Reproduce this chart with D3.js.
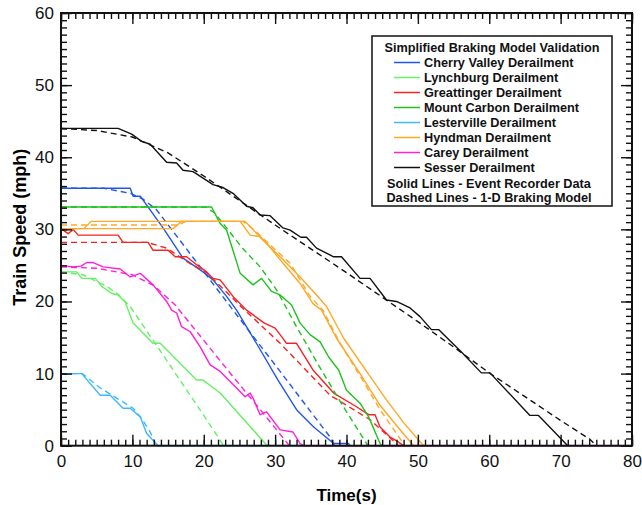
<!DOCTYPE html>
<meta charset="utf-8">
<style>
body { margin: 0; background: #fff; }
text { font-family: Arial, "Liberation Sans", sans-serif; }
.tick line { stroke: #111; stroke-width: 1.4px; }
.tick text { font-size: 17px; fill: #111; }
.run { fill: none; stroke-width: 1.4px; stroke-linejoin: round; }
.model { fill: none; stroke-width: 1.4px; stroke-dasharray: 6,4; }
.legend text { font-size: 12.7px; font-weight: bold; fill: #111; }
</style>
<body>
<script src="https://cdn.jsdelivr.net/npm/d3@7"></script>
<script>

// event recorder data (solid) and 1-D braking model (dashed), [time s, speed mph]
var cherrySolid = [[0,35.7],[9.7,35.7],[10.1,34.6],[11.1,34.6],[14.3,30.2],[17.1,26],[19.9,24.1],[21.3,23],[23.2,20.7],[24.6,18.8],[27.5,14],[30.4,9.1],[33,5],[35.4,2.6],[38.2,0.3],[40.3,0.3],[40.5,0]]
var cherryModel = [[0,35.7],[6,35.7],[9.7,35],[11.5,34.2],[13.4,32.7],[18.5,26.1],[24.1,18.8],[30.7,10.3],[35,4.7],[37.7,1.2],[38.3,0]]
var lynchSolid = [[0,24.1],[2.2,24.1],[2.9,23.2],[4.8,23.2],[5.7,22.1],[7.1,21.1],[8,20.9],[9,19.9],[10.1,17],[12.9,14.2],[13.9,14.2],[19,9.1],[19.9,9.1],[22.3,7.3],[28.9,0]]
var lynchModel = [[0,24.1],[3.1,23.7],[6.4,22.1],[8,21],[9.7,19.3],[13.4,13.9],[17,8.6],[20,4.2],[22.8,0]]
var greatSolid = [[0,30.1],[1,29.4],[1.7,30],[2.4,29.2],[8,29.2],[8.7,28.2],[12.2,28.2],[12.9,27.1],[15,27.1],[16,26.2],[17.6,26.2],[19,25.1],[20.4,24.1],[21.3,23.2],[22.3,23],[24.1,20.7],[26,18.8],[28.5,17],[30,16.3],[30.7,15.4],[31.6,14.2],[33,14.2],[35.3,10.5],[38.2,7.3],[41.4,5.4],[43.1,4.3],[44,4.3],[44.7,2.6],[46.1,1.2],[46.8,0.8],[48,0]]
var greatModel = [[0,28.2],[12,28.2],[14.8,27.4],[18,25.3],[20.4,24],[25,19.5],[30.7,14.2],[37.7,7],[43.3,3.6],[47.3,0]]
var mountSolid = [[0,33.1],[21.1,33.1],[22.3,30.8],[23.2,29.9],[25.1,23.9],[26.9,22.3],[28.1,23.2],[29.5,21.4],[30.7,20.9],[32.3,19.5],[33.5,17],[34.9,15.4],[36.3,14.4],[37.5,12.3],[38.9,10.5],[40,7.7],[41.9,5.9],[43.1,4],[44.7,0.3],[45,0]]
var mountModel = [[0,33.1],[20.2,33.1],[21.5,32.3],[23.2,30.2],[25.5,27.3],[27.9,24.8],[30.2,21.6],[33,16.5],[36,11.3],[39.5,5.5],[43,0]]
var lesterSolid = [[0,10],[2.9,10],[5.5,7],[6.9,7],[8.7,5.2],[9.7,5.2],[11.1,4],[12,1.7],[13.6,0],[80,0]]
var lesterModel = [[0,10],[3,10],[5.5,8],[7.8,6.6],[10.1,5.2],[11.2,3.9],[12.5,1.9],[13.4,0]]
var hyndSolidA = [[0,30.1],[3.2,30.1],[4.2,31.1],[25.1,31.1],[26.5,29.2],[27.9,29],[28.8,28.1],[31.1,25.3],[33.5,22.5],[35.3,19.7],[36.5,18.8],[38.6,14.9],[41.9,10],[44.7,5.6],[47,2.8],[49.4,0]]
var hyndSolidB = [[0,30.1],[15.7,30.1],[16.9,31.1],[25.8,31.1],[28.3,28.5],[30.7,26.2],[33.5,23.4],[35.8,20.9],[37.2,19.3],[39.6,14.9],[43.3,9.6],[45.5,6.5],[48,3.2],[50.8,0]]
var hyndModel = [[0,30.6],[16.4,30.6],[17.5,31.1],[25.5,31.1],[27,30],[28.8,28.3],[32.1,25.3],[34.9,20.7],[36.7,18.8],[39.1,14.2],[42,9.5],[44.7,5],[48.2,0]]
var careySolid = [[0,25],[1.7,24.8],[2.8,24.9],[3.6,25.4],[4.5,25.4],[5.9,24.8],[8.3,24.5],[9.7,23.4],[11.1,23.9],[12.9,22.3],[14.8,20],[15.5,18.8],[16.2,18.4],[16.9,16.5],[18.1,15.8],[19.5,13.7],[20.9,11.2],[22.3,10.3],[23.9,8.7],[25.8,6.8],[26.5,7.3],[26.9,6.6],[27.9,4.3],[28.8,4.7],[30.7,2.2],[32.5,1.9],[33.5,0.3],[34,0],[80,0]]
var careyModel = [[0,24.8],[5,24.6],[10,23.7],[13,22.2],[16,19.5],[20,14.6],[24,9.7],[28,4.9],[32,0]]
var sesserSolid = [[0,44],[8,44],[9.9,43.2],[11.3,42.2],[12.5,41.8],[14.8,39.3],[16.2,39.2],[17.1,38.2],[18.5,38],[19.9,37.1],[21.3,36.2],[22.7,35.8],[24.1,35],[26,33.2],[26.9,33],[27.9,32],[29.3,31.9],[31.1,30.2],[32.1,29.9],[33.6,28.9],[34.4,28.9],[35.8,27.4],[38.2,26.2],[39.3,26.2],[41.9,23.2],[43.3,23.2],[45.6,20.2],[47,20],[48.9,19.1],[50.3,17.9],[51.9,16.1],[52.9,16.1],[56.1,13],[58.9,10.1],[60.1,10.1],[65.7,4.2],[66.9,4.2],[71,0]]
var sesserModel = [[0,44],[5,43.7],[10,42.8],[15,40.6],[20,37.4],[25,34],[30,30.6],[35,27.3],[40,24],[45,20.6],[50,17.2],[55,13.7],[60,10.1],[65,6.8],[70,3.5],[74.1,0.9],[75,0]]

var names = ["Cherry Valley Derailment", "Lynchburg Derailment", "Greattinger Derailment", "Mount Carbon Derailment",
             "Lesterville Derailment", "Hyndman Derailment", "Carey Derailment", "Sesser Derailment"]
var colors = ["#2356e8", "#66f066", "#f22424", "#1fc21f", "#3cb8ff", "#ffa826", "#ff1fdc", "#111111"]
var solids = [[cherrySolid], [lynchSolid], [greatSolid], [mountSolid], [lesterSolid], [hyndSolidA, hyndSolidB], [careySolid], [sesserSolid]]
var models = [cherryModel, lynchModel, greatModel, mountModel, lesterModel, hyndModel, careyModel, sesserModel]

var xTicks = d3.range(0, 81, 10)
var yTicks = d3.range(0, 61, 10)

var width = 642, height = 505

var svg = d3.select("body").append("svg")
    .attr("width", width)
    .attr("height", height)

var x = d3.scaleLinear().domain([0, 80]).range([61, 632])
var y = d3.scaleLinear().domain([0, 60]).range([445.7, 13])

var line = d3.line().x(d => x(d[0])).y(d => y(d[1]))

// curves
var g = svg.append("g")
models.forEach(function(m, i) {
  solids[i].forEach(function(s) {
    g.append("path").attr("class", "run").attr("d", line(s)).attr("stroke", colors[i])
  })
  g.append("path").attr("class", "model").attr("d", line(m)).attr("stroke", colors[i])
})

// axes, ticks inward on all four sides
function ticks(axisFn, scale, pos, vals, size, labels, pad) {
  var a = axisFn(scale).tickValues(vals).tickSize(size).tickPadding(pad || 3)
  if (!labels) a.tickFormat("")
  var gg = svg.append("g").attr("transform", pos).call(a)
  gg.select(".domain").remove()
  return gg
}
var minorX = d3.range(0, 81, 1), minorY = d3.range(0, 61, 1)
ticks(d3.axisBottom, x, "translate(0," + y(0) + ")", minorX, -6)
ticks(d3.axisBottom, x, "translate(0," + y(0) + ")", xTicks, -11, true, 9)
ticks(d3.axisTop, x, "translate(0," + y(60) + ")", minorX, -6)
ticks(d3.axisTop, x, "translate(0," + y(60) + ")", xTicks, -11)
ticks(d3.axisLeft, y, "translate(" + x(0) + ",0)", minorY, -6)
ticks(d3.axisLeft, y, "translate(" + x(0) + ",0)", yTicks, -11, true, 7)
ticks(d3.axisRight, y, "translate(" + x(80) + ",0)", minorY, -6)
ticks(d3.axisRight, y, "translate(" + x(80) + ",0)", yTicks, -11)

svg.append("rect")
    .attr("x", x(0)).attr("y", y(60))
    .attr("width", x(80) - x(0)).attr("height", y(0) - y(60))
    .attr("fill", "none").attr("stroke", "#111").attr("stroke-width", 2)

svg.append("text")
    .attr("x", (x(0) + x(80)) / 2).attr("y", 501)
    .attr("text-anchor", "middle")
    .style("font-size", "17px").style("font-weight", "bold")
    .text("Time(s)")

svg.append("text")
    .attr("transform", "translate(26," + (y(30) - 2) + ") rotate(-90)")
    .attr("text-anchor", "middle")
    .style("font-size", "18px").style("font-weight", "bold")
    .text("Train Speed (mph)")

// legend
var lg = svg.append("g").attr("class", "legend")
lg.append("rect")
    .attr("x", 372).attr("y", 36).attr("width", 240).attr("height", 170)
    .attr("fill", "#fff").attr("stroke", "#111").attr("stroke-width", 1.5)
lg.append("text").attr("x", 492).attr("y", 51.5).attr("text-anchor", "middle")
    .text("Simplified Braking Model Validation")
names.forEach(function(n, i) {
  var yy = 62.5 + i * 15
  lg.append("line").attr("x1", 394).attr("x2", 420).attr("y1", yy).attr("y2", yy)
      .attr("stroke", colors[i]).attr("stroke-width", 1.5)
  lg.append("text").attr("x", 424).attr("y", yy + 4.5).text(n)
})
lg.append("text").attr("x", 489).attr("y", 187.5).attr("text-anchor", "middle")
    .text("Solid Lines - Event Recorder Data")
lg.append("text").attr("x", 489).attr("y", 202).attr("text-anchor", "middle")
    .text("Dashed Lines - 1-D Braking Model")

</script>
</body>
</html>
